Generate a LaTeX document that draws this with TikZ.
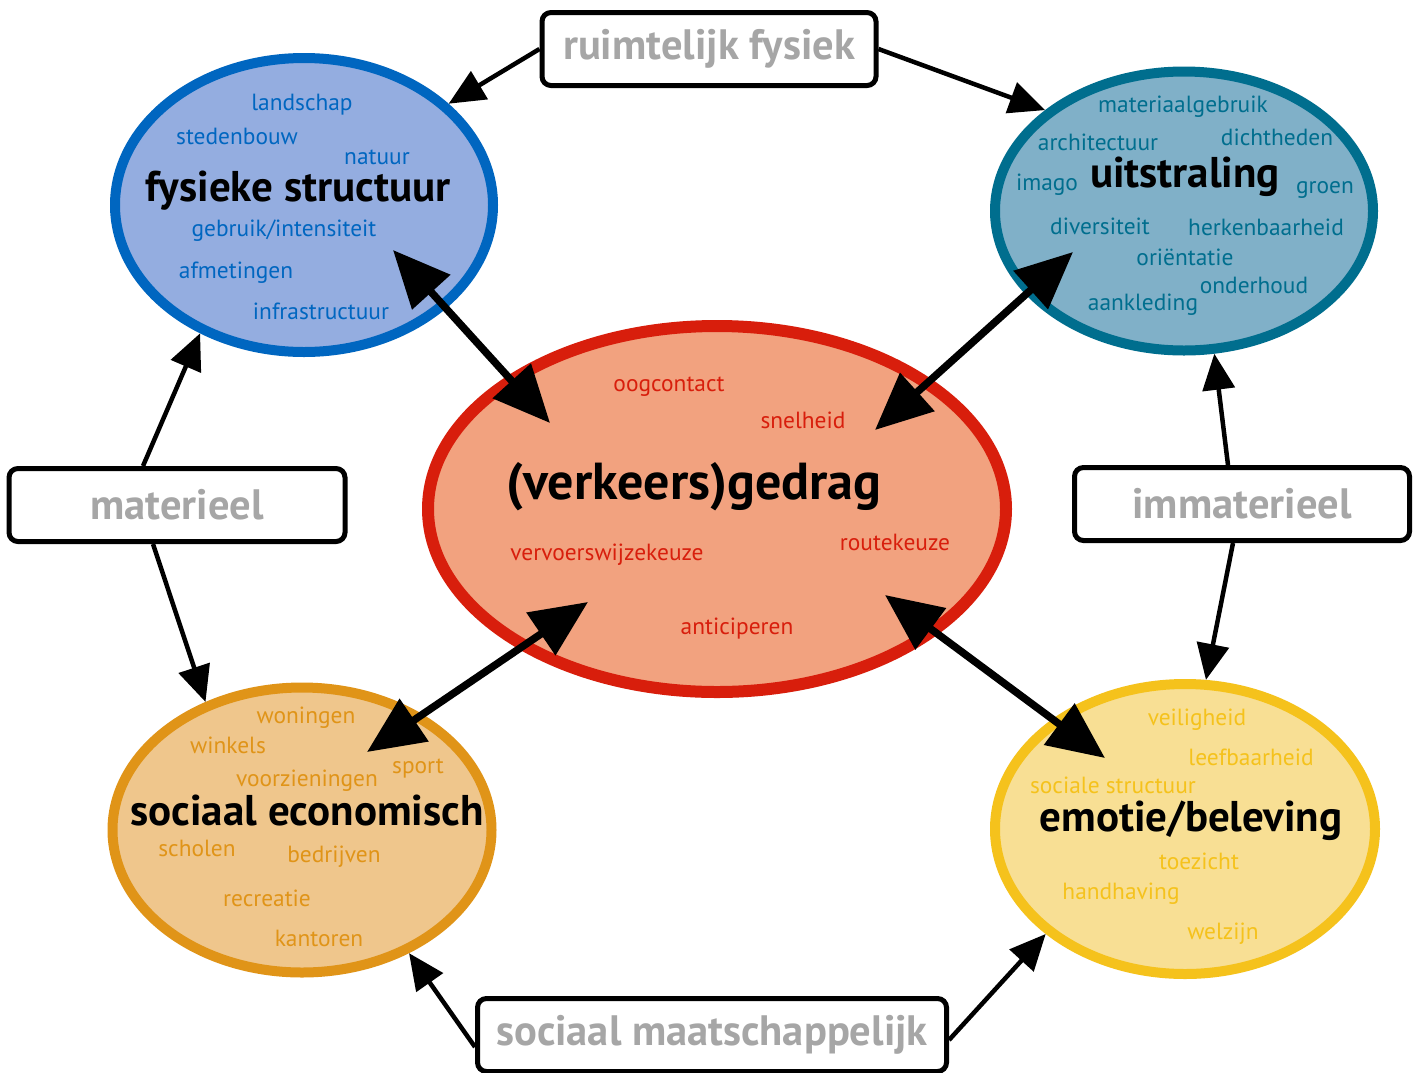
\documentclass[tikz,border=0pt]{standalone}
\usepackage{fontspec}
\setmainfont{PT Sans}
\usetikzlibrary{shapes.geometric,arrows.meta}

\definecolor{fysfill}{HTML}{94ADE0}
\definecolor{fysline}{HTML}{0066C0}
\definecolor{uitfill}{HTML}{80B0C8}
\definecolor{uitline}{HTML}{006E8E}
\definecolor{gedfill}{HTML}{F2A27F}
\definecolor{gedline}{HTML}{D81E0C}
\definecolor{socfill}{HTML}{EFC68C}
\definecolor{socline}{HTML}{E09418}
\definecolor{emofill}{HTML}{F8DF94}
\definecolor{emoline}{HTML}{F5C21C}
\definecolor{labelgray}{HTML}{A6A6A6}

\tikzset{
  bubble/.style={ellipse, draw, line width=10pt, inner sep=0pt},
  aspect/.style={draw, fill=white, line width=5pt, rounded corners=9pt,
    minimum height=73pt, text=labelgray,
    font=\fontsize{42.5}{42.5}\selectfont\bfseries},
  word/.style={font=\fontsize{23.4}{23.4}\selectfont},
  title/.style={font=\fontsize{43}{43}\selectfont\bfseries},
  link/.style={-{Triangle[length=36pt,width=32pt]}, line width=4.5pt},
  bond/.style={{Triangle[length=57pt,width=50pt]}-{Triangle[length=57pt,width=50pt]},
    line width=7.5pt},
}

\begin{document}
\begin{tikzpicture}[x=1pt,y=-1pt]
  \useasboundingbox[fill=white] (0,0) rectangle (1422,1072);

  % the five fields
  \node[bubble, draw=fysline, fill=fysfill, minimum width=378pt, minimum height=294pt] (fys) at (304,205) {};
  \node[bubble, draw=uitline, fill=uitfill, minimum width=378pt, minimum height=279pt] (uit) at (1184,211) {};
  \node[bubble, draw=gedline, fill=gedfill, line width=12pt, minimum width=578pt, minimum height=366pt] (ged) at (717,509) {};
  \node[bubble, draw=socline, fill=socfill, minimum width=379pt, minimum height=285pt] (soc) at (302,830) {};
  \node[bubble, draw=emoline, fill=emofill, minimum width=380pt, minimum height=290pt] (emo) at (1185,829) {};

  % titles
  \node[title] (fyst) at (298,191) {fysieke structuur};
  \node[title] (uitt) at (1185,177) {uitstraling};
  \node[title, font=\fontsize{52}{52}\selectfont\bfseries] (gedt) at (694,487) {(verkeers)gedrag};
  \node[title] (soct) at (307,811) {sociaal economisch};
  \node[title] (emot) at (1191,821) {emotie/beleving};

  % keywords
  \foreach \x/\y/\w [count=\i] in {302/105/landschap, 237/136/stedenbouw, 377/157/natuur,
      284/231/{gebruik/intensiteit}, 236/273/afmetingen, 321/311/infrastructuur}
    \node[word, text=fysline] (fw\i) at (\x,\y) {\w};
  \foreach \x/\y/\w [count=\i] in {1183/107/materiaalgebruik, 1098/142/architectuur,
      1277/137/dichtheden, 1047/185/imago, 1325/190/groen, 1100/226/diversiteit,
      1266/227/herkenbaarheid, 1185/257/oriëntatie, 1254/285/onderhoud, 1143/305/aankleding}
    \node[word, text=uitline] (uw\i) at (\x,\y) {\w};
  \foreach \x/\y/\w [count=\i] in {669/387/oogcontact, 803/420/snelheid, 895/542/routekeuze,
      607/555/vervoerswijzekeuze, 737/629/anticiperen}
    \node[word, text=gedline] (gw\i) at (\x,\y) {\w};
  \foreach \x/\y/\w [count=\i] in {306/718/woningen, 228/745/winkels, 307/781/voorzieningen,
      418/769/sport, 197/848/scholen, 334/857/bedrijven, 267/898/recreatie, 319/938/kantoren}
    \node[word, text=socline] (sw\i) at (\x,\y) {\w};
  \foreach \x/\y/\w [count=\i] in {1197/720/veiligheid, 1251/757/leefbaarheid,
      1113/785/sociale structuur, 1199/861/toezicht, 1121/894/handhaving, 1223/934/welzijn}
    \node[word, text=emoline] (ew\i) at (\x,\y) {\w};

  % aspects
  \node[aspect, minimum width=334pt] (ruimte) at (709,49) {ruimtelijk fysiek};
  \node[aspect, minimum width=336pt] (mat) at (177,505) {materieel};
  \node[aspect, minimum width=335pt] (imm) at (1242,504) {immaterieel};
  \node[aspect, minimum width=469pt] (maat) at (712,1035) {sociaal maatschappelijk};

  \draw[link] (ruimte.west) -- (fys.35);
  \draw[link] (ruimte.east) -- (uit.144);
  \draw[link] ([xshift=-34pt]mat.north) -- (fys.-129);
  \draw[link] ([xshift=-24pt]mat.south) -- (soc.127);
  \draw[link] ([xshift=-14pt]imm.north) -- (uit.-78);
  \draw[link] ([xshift=-9pt]imm.south) -- (emo.82);
  \draw[link] ([yshift=-12pt]maat.west) -- (soc.-49);
  \draw[link] ([yshift=-5pt]maat.east) -- (emo.-143);

  % interactions with behaviour
  \coordinate (fysin) at (393,250);
  \coordinate (uitin) at (1073,252);
  \coordinate (socin) at (367,752);
  \coordinate (emoin) at (1105,758);
  \coordinate (gedfys) at (550,423);
  \coordinate (geduit) at (875,430);
  \coordinate (gedsoc) at (588,602);
  \coordinate (gedemo) at (885,595);
  \draw[bond] (fysin) -- (gedfys);
  \draw[bond] (uitin) -- (geduit);
  \draw[bond] (socin) -- (gedsoc);
  \draw[bond] (emoin) -- (gedemo);
\end{tikzpicture}
\end{document}
